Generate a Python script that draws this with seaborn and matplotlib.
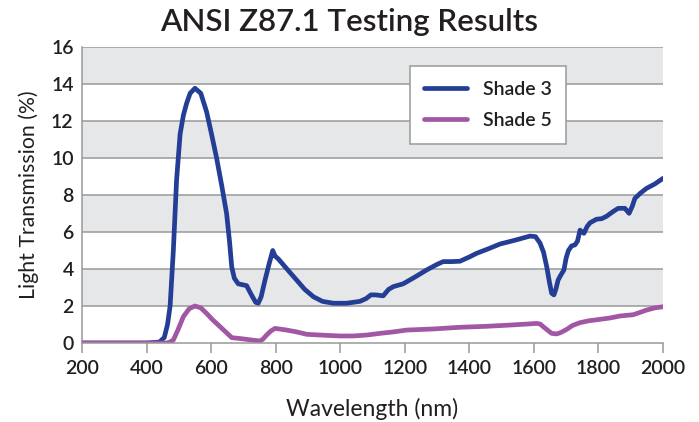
import matplotlib
matplotlib.use("Agg")
import matplotlib.pyplot as plt
import pandas as pd
import seaborn as sns

# Shade 3 transmission curve (wavelength nm, % transmission)
shade3_wl = [200, 300, 400, 440, 455, 465, 473, 483, 493, 504, 514, 524, 535, 550,
             568, 586, 600, 617, 633, 648, 657, 664, 672, 684, 710, 725, 738, 746,
             755, 767, 780, 791, 798, 808, 830, 865, 890, 917, 945, 979, 1020,
             1061, 1080, 1095, 1110, 1133, 1150, 1165, 1195, 1230, 1268, 1300,
             1319, 1345, 1371, 1400, 1423, 1460, 1495, 1540, 1588, 1605, 1619,
             1630, 1640, 1648, 1655, 1662, 1668, 1675, 1681, 1693, 1700, 1707,
             1717, 1727, 1735, 1743, 1755, 1765, 1774, 1794, 1810, 1825, 1845,
             1861, 1882, 1895, 1905, 1913, 1930, 1949, 1975, 2000]
shade3_val = [0.0, 0.0, 0.0, 0.05, 0.3, 1.0, 2.0, 5.0, 8.8, 11.3, 12.3, 12.95, 13.5,
              13.77, 13.5, 12.5, 11.4, 10.0, 8.5, 7.0, 5.5, 4.1, 3.5, 3.2, 3.1,
              2.6, 2.2, 2.15, 2.5, 3.4, 4.3, 5.0, 4.7, 4.55, 4.1, 3.4, 2.9, 2.5,
              2.25, 2.15, 2.15, 2.25, 2.4, 2.6, 2.6, 2.55, 2.9, 3.05, 3.2, 3.55,
              3.95, 4.25, 4.4, 4.4, 4.42, 4.65, 4.85, 5.1, 5.35, 5.55, 5.78, 5.75,
              5.4, 4.9, 4.1, 3.3, 2.69, 2.6, 2.9, 3.4, 3.6, 3.95, 4.6, 5.0, 5.25,
              5.3, 5.5, 6.1, 5.93, 6.3, 6.5, 6.69, 6.72, 6.85, 7.1, 7.28, 7.28,
              7.01, 7.4, 7.82, 8.1, 8.36, 8.6, 8.9]

# Shade 5 transmission curve
shade5_wl = [200, 300, 400, 460, 470, 483, 497, 514, 532, 550, 568, 586, 605, 628,
             648, 664, 700, 730, 751, 760, 772, 785, 798, 834, 865, 896, 950, 999,
             1040, 1082, 1123, 1165, 1206, 1290, 1371, 1450, 1526, 1575, 1609,
             1620, 1629, 1642, 1655, 1671, 1685, 1702, 1720, 1743, 1770, 1805,
             1835, 1867, 1908, 1928, 1949, 1975, 2000]
shade5_val = [0.0, 0.0, 0.0, 0.0, 0.03, 0.16, 0.7, 1.42, 1.85, 2.0, 1.9, 1.6, 1.25,
              0.88, 0.55, 0.29, 0.22, 0.15, 0.11, 0.2, 0.43, 0.65, 0.79, 0.7,
              0.6, 0.47, 0.42, 0.38, 0.38, 0.43, 0.52, 0.6, 0.7, 0.76, 0.85, 0.9,
              0.97, 1.02, 1.06, 1.02, 0.88, 0.7, 0.52, 0.49, 0.58, 0.74, 0.95,
              1.1, 1.2, 1.28, 1.35, 1.46, 1.53, 1.65, 1.78, 1.9, 1.96]

x_ticks = list(range(200, 2001, 200))
y_ticks = list(range(0, 17, 2))

df = pd.concat([
    pd.DataFrame({"Wavelength": shade3_wl, "Transmission": shade3_val, "Series": "Shade 3"}),
    pd.DataFrame({"Wavelength": shade5_wl, "Transmission": shade5_val, "Series": "Shade 5"}),
])

FONT = ["Lato", "DejaVu Sans"]
plt.rcParams["font.family"] = FONT
plt.rcParams["font.weight"] = "semibold"
TEXT = "#231f20"
GRID = "#999999"

fig = plt.figure(figsize=(6.99, 4.22), dpi=100)
ax = fig.add_axes([0.1173, 0.1872, 0.8312, 0.7014])

# alternating grey bands
for lo in range(2, 16, 4):
    ax.axhspan(lo, lo + 2, color="#e6e7e8", zorder=0, lw=0)
for y in y_ticks[1:]:
    ax.axhline(y, color=GRID, lw=1.1, zorder=1)

sns.lineplot(data=df, x="Wavelength", y="Transmission", hue="Series",
             palette={"Shade 3": "#243e96", "Shade 5": "#a157a3"},
             lw=3.4, ax=ax, zorder=3, estimator=None, sort=False)
for ln in ax.get_lines():
    ln.set_solid_joinstyle("round")
    ln.set_solid_capstyle("round")

ax.set_xlim(200, 2000)
ax.set_ylim(0, 16)
ax.set_xticks(x_ticks)
ax.set_yticks(y_ticks)
ax.tick_params(axis="x", length=7, width=1.1, color=GRID, labelsize=14,
               labelcolor=TEXT, pad=5)
ax.tick_params(axis="y", length=0, labelsize=14, labelcolor=TEXT, pad=6)
for s in ["top", "right"]:
    ax.spines[s].set_visible(False)
for s in ["left", "bottom"]:
    ax.spines[s].set_color(GRID)
    ax.spines[s].set_linewidth(1.1)
ax.spines["bottom"].set_zorder(4)

ax.set_xlabel("Wavelength (nm)", fontsize=16.5, color=TEXT, labelpad=15)
ax.set_ylabel("Light Transmission (%)", fontsize=15.3, color=TEXT, labelpad=9)
fig.text(0.5, 0.947, "ANSI Z87.1 Testing Results", fontsize=22.5, color=TEXT,
         ha="center", va="center")

leg = ax.legend(loc="upper left", bbox_to_anchor=(0.564, 0.936), frameon=True,
                fancybox=False, fontsize=14, handlelength=2.2, borderaxespad=0,
                borderpad=0.75, labelspacing=0.75, handletextpad=0.8)
leg.get_frame().set_edgecolor(GRID)
leg.get_frame().set_linewidth(1.1)
leg.get_frame().set_facecolor("white")
leg.get_frame().set_alpha(1)
for t in leg.get_texts():
    t.set_color(TEXT)
leg.set_zorder(5)

fig.savefig("out.png", dpi=100)
